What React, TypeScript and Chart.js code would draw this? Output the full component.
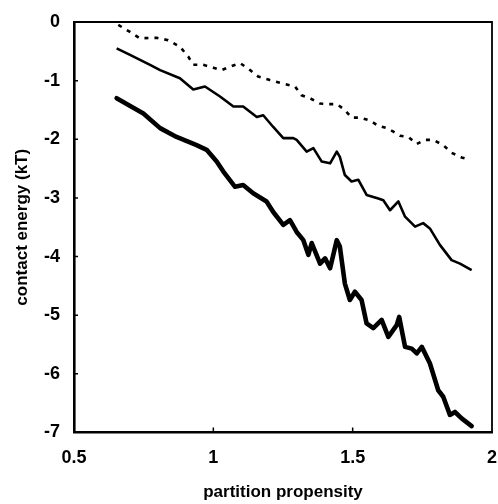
import React, { useEffect, useRef } from "react";
import { Chart, registerables } from "chart.js";

Chart.register(...registerables);

// ---- data ----
const xTickValues = [0.5, 1, 1.5, 2];
const yTickValues = [0, -1, -2, -3, -4, -5, -6, -7];

const dashedX = [0.659, 0.701, 0.737, 0.773, 0.797, 0.838, 0.88, 0.91, 0.928, 0.964, 1.0, 1.03, 1.06, 1.096, 1.132, 1.161, 1.203, 1.251, 1.293, 1.317, 1.347, 1.383, 1.412, 1.443, 1.472, 1.496, 1.526, 1.562, 1.592, 1.622, 1.646, 1.67, 1.7, 1.73, 1.759, 1.789, 1.825, 1.855, 1.891, 1.906];
const dashedY = [-0.05, -0.17, -0.28, -0.27, -0.27, -0.31, -0.42, -0.59, -0.73, -0.73, -0.78, -0.82, -0.76, -0.7, -0.82, -0.93, -0.99, -1.05, -1.1, -1.25, -1.3, -1.39, -1.4, -1.4, -1.5, -1.63, -1.63, -1.68, -1.77, -1.81, -1.87, -1.94, -1.96, -2.08, -2.01, -2.01, -2.1, -2.23, -2.31, -2.33];

const middleX = [0.653, 0.701, 0.773, 0.809, 0.88, 0.928, 0.97, 1.024, 1.072, 1.107, 1.156, 1.179, 1.215, 1.251, 1.287, 1.299, 1.335, 1.359, 1.389, 1.419, 1.443, 1.454, 1.472, 1.496, 1.52, 1.55, 1.592, 1.61, 1.634, 1.664, 1.688, 1.724, 1.753, 1.777, 1.813, 1.855, 1.885, 1.927];
const middleY = [-0.45, -0.56, -0.73, -0.82, -0.96, -1.15, -1.1, -1.27, -1.44, -1.44, -1.62, -1.59, -1.79, -1.98, -1.98, -2.01, -2.21, -2.15, -2.38, -2.41, -2.21, -2.3, -2.61, -2.72, -2.69, -2.95, -3.01, -3.04, -3.21, -3.06, -3.32, -3.49, -3.43, -3.52, -3.8, -4.06, -4.12, -4.23];

const thickX = [0.653, 0.749, 0.809, 0.868, 0.94, 0.976, 1.012, 1.036, 1.078, 1.107, 1.143, 1.191, 1.215, 1.251, 1.275, 1.299, 1.323, 1.341, 1.353, 1.383, 1.401, 1.419, 1.443, 1.454, 1.472, 1.49, 1.508, 1.532, 1.55, 1.574, 1.604, 1.628, 1.658, 1.667, 1.688, 1.712, 1.73, 1.748, 1.777, 1.807, 1.825, 1.849, 1.867, 1.891, 1.927];
const thickY = [-1.3, -1.56, -1.81, -1.96, -2.1, -2.18, -2.38, -2.55, -2.81, -2.78, -2.92, -3.06, -3.24, -3.46, -3.38, -3.58, -3.72, -3.97, -3.77, -4.12, -4.03, -4.2, -3.72, -3.83, -4.46, -4.74, -4.6, -4.74, -5.14, -5.22, -5.08, -5.37, -5.17, -5.03, -5.54, -5.57, -5.65, -5.54, -5.82, -6.28, -6.39, -6.7, -6.65, -6.76, -6.89];

const xTitle = "partition propensity";
const yTitle = "contact energy (kT)";

const FONT = "'Liberation Sans', Arial, Helvetica, sans-serif";

const pairs = (xs: number[], ys: number[]) => xs.map((x, i) => ({ x, y: ys[i] }));

const framePlugin = {
  id: "frame",
  afterDraw(chart: any) {
    const { ctx, chartArea, scales } = chart;
    const { left, right, top, bottom } = chartArea;
    ctx.save();
    ctx.strokeStyle = "#000";
    ctx.lineWidth = 1.8;
    ctx.beginPath();
    ctx.moveTo(left, top);
    ctx.lineTo(right, top);
    ctx.lineTo(right, bottom);
    ctx.stroke();
    // small inward tick marks
    ctx.lineWidth = 1.5;
    ctx.beginPath();
    for (const v of yTickValues) {
      if (v === 0 || v === -7) continue;
      const py = scales.y.getPixelForValue(v);
      ctx.moveTo(left, py);
      ctx.lineTo(left + 4, py);
    }
    for (const v of xTickValues) {
      if (v === 0.5 || v === 2) continue;
      const px = scales.x.getPixelForValue(v);
      ctx.moveTo(px, bottom);
      ctx.lineTo(px, bottom - 5);
    }
    ctx.stroke();
    ctx.restore();
  },
};

export default function App() {
  const ref = useRef<HTMLCanvasElement>(null);

  useEffect(() => {
    if (!ref.current) return;
    const chart = new Chart(ref.current, {
      type: "line",
      data: {
        datasets: [
          {
            data: pairs(dashedX, dashedY),
            borderColor: "#000",
            borderWidth: 2.6,
            borderDash: [4, 6],
            pointRadius: 0,
            tension: 0,
            fill: false,
          },
          {
            data: pairs(middleX, middleY),
            borderColor: "#000",
            borderWidth: 2.6,
            pointRadius: 0,
            tension: 0,
            fill: false,
            borderJoinStyle: "round",
          },
          {
            data: pairs(thickX, thickY),
            borderColor: "#000",
            borderWidth: 4.6,
            pointRadius: 0,
            tension: 0,
            fill: false,
            borderJoinStyle: "round",
            borderCapStyle: "round",
          },
        ],
      },
      options: {
        responsive: false,
        animation: false,
        layout: { padding: { top: 22, right: 6, left: 0, bottom: 0 } },
        plugins: { legend: { display: false }, tooltip: { enabled: false } },
        scales: {
          x: {
            type: "linear",
            min: 0.5,
            max: 2,
            afterBuildTicks: (s: any) => {
              s.ticks = xTickValues.map((v) => ({ value: v }));
            },
            afterFit: (s: any) => {
              s.height = 71.5;
              s.paddingLeft = 0;
              s.paddingRight = 0;
            },
            grid: { display: false, drawTicks: false },
            border: { display: true, color: "#000", width: 2.6 },
            ticks: {
              padding: 15,
              color: "#000",
              autoSkip: false,
              maxRotation: 0,
              callback: (v: any) => String(Number(v)),
              font: { family: FONT, size: 18, weight: "bold" },
            },
            title: {
              display: true,
              text: xTitle,
              color: "#000",
              font: { family: FONT, size: 17, weight: "bold" },
              padding: { top: 0, bottom: 1 },
            },
          },
          y: {
            type: "linear",
            min: -7,
            max: 0,
            afterBuildTicks: (s: any) => {
              s.ticks = yTickValues.map((v) => ({ value: v }));
            },
            afterFit: (s: any) => {
              s.width = 74;
              s.paddingTop = 0;
              s.paddingBottom = 0;
            },
            grid: { display: false, drawTicks: false },
            border: { display: true, color: "#000", width: 2.6 },
            ticks: {
              padding: 14,
              color: "#000",
              autoSkip: false,
              callback: (v: any) => String(Number(v)),
              font: { family: FONT, size: 18, weight: "bold" },
            },
            title: {
              display: true,
              text: yTitle,
              color: "#000",
              font: { family: FONT, size: 17, weight: "bold" },
              padding: { top: 12, bottom: 0 },
            },
          },
        },
      },
      plugins: [framePlugin],
    } as any);
    return () => chart.destroy();
  }, []);

  return (
    <div style={{ position: "fixed", left: 0, top: 0, width: 498, height: 504, background: "#fff" }}>
      <canvas ref={ref} width={498} height={504} />
    </div>
  );
}
